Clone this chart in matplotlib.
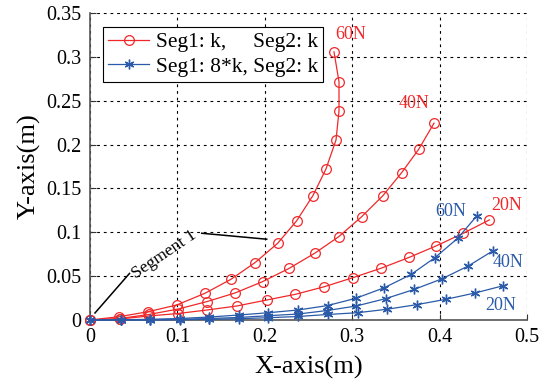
import numpy as np
import matplotlib.pyplot as plt

# red: Seg1 k, Seg2 k
red_60_x = [0, 0.0335, 0.0667, 0.0992, 0.1316, 0.1613, 0.1888, 0.2148, 0.2365, 0.2551, 0.2700, 0.2815, 0.2849, 0.2849, 0.2792]
red_60_y = [0, 0.0038, 0.0095, 0.0171, 0.0305, 0.0464, 0.0654, 0.0875, 0.1132, 0.1419, 0.1722, 0.2053, 0.2384, 0.2715, 0.3057]
red_40_x = [0, 0.0338, 0.0675, 0.1007, 0.1335, 0.1659, 0.1974, 0.2277, 0.2571, 0.2846, 0.3109, 0.3349, 0.3566, 0.3764, 0.3936]
red_40_y = [0, 0.0017, 0.0063, 0.0125, 0.0209, 0.0308, 0.0437, 0.0588, 0.0761, 0.0950, 0.1178, 0.1415, 0.1680, 0.1951, 0.2244]
red_20_x = [0, 0.0338, 0.0675, 0.1007, 0.1339, 0.1682, 0.2022, 0.2351, 0.2683, 0.3009, 0.3330, 0.3650, 0.3959, 0.4271, 0.4569]
red_20_y = [0, 0.0011, 0.0046, 0.0074, 0.0114, 0.0160, 0.0228, 0.0293, 0.0380, 0.0483, 0.0590, 0.0713, 0.0844, 0.0989, 0.1141]

# blue: Seg1 8*k, Seg2 k
blue_60_x = [0, 0.0349, 0.0692, 0.1030, 0.1367, 0.1705, 0.2040, 0.2380, 0.2720, 0.3043, 0.3367, 0.3673, 0.3947, 0.4207, 0.4425]
blue_60_y = [0, 0.0002, 0.0008, 0.0017, 0.0034, 0.0057, 0.0083, 0.0114, 0.0165, 0.0248, 0.0368, 0.0519, 0.0711, 0.0932, 0.1186]
blue_40_x = [0, 0.0349, 0.0692, 0.1030, 0.1367, 0.1705, 0.2040, 0.2380, 0.2712, 0.3049, 0.3387, 0.3707, 0.4024, 0.4328, 0.4614]
blue_40_y = [0, 0.0, 0.0003, 0.0008, 0.0017, 0.0029, 0.0049, 0.0068, 0.0108, 0.0160, 0.0245, 0.0348, 0.0468, 0.0616, 0.0791]
blue_20_x = [0, 0.0349, 0.0692, 0.1030, 0.1367, 0.1705, 0.2040, 0.2380, 0.2720, 0.3061, 0.3402, 0.3738, 0.4073, 0.4405, 0.4729]
blue_20_y = [0, 0.0, 0.0, 0.0003, 0.0008, 0.0015, 0.0026, 0.0040, 0.0063, 0.0083, 0.0123, 0.0175, 0.0236, 0.0308, 0.0391]

force_labels = ['60N', '40N', '20N']
red_label_pos = [(0.2986, 0.325), (0.3707, 0.2464), (0.477, 0.130)]
blue_label_pos = [(0.413, 0.1232), (0.4783, 0.065), (0.4702, 0.016)]

x_ticks = [0, 0.1, 0.2, 0.3, 0.4, 0.5]
x_ticklabels = ['0', '0.1', '0.2', '0.3', '0.4', '0.5']
y_ticks = [0, 0.05, 0.1, 0.15, 0.2, 0.25, 0.3, 0.35]
y_ticklabels = ['0', '0.05', '0.1', '0.15', '0.2', '0.25', '0.3', '0.35']

RED = '#f0282a'
BLUE = '#2a5aa8'

plt.rcParams['font.family'] = ['Liberation Serif', 'DejaVu Serif']

fig = plt.figure(figsize=(5.5, 3.87), dpi=100)
ax = fig.add_axes([90/550, 1-320/387, 437/550, 307/387])

red_sets = [(red_60_x, red_60_y), (red_40_x, red_40_y), (red_20_x, red_20_y)]
blue_sets = [(blue_60_x, blue_60_y), (blue_40_x, blue_40_y), (blue_20_x, blue_20_y)]

for i, (xs, ys) in enumerate(red_sets):
    ax.plot(xs, ys, color=RED, lw=0.9, marker='o', ms=7, mfc='none', mew=0.9,
            clip_on=False, zorder=3, label='Seg1: k,     Seg2: k' if i == 0 else None)
for i, (xs, ys) in enumerate(blue_sets):
    ax.plot(xs, ys, color=BLUE, lw=0.9, marker=(6, 2, 0), ms=7, mew=1.0,
            clip_on=False, zorder=4, label='Seg1: 8*k, Seg2: k' if i == 0 else None)

for lab, (tx, ty) in zip(force_labels, red_label_pos):
    ax.text(tx, ty, lab, color=RED, fontsize=13, ha='center', va='center')
for lab, (tx, ty) in zip(force_labels, blue_label_pos):
    ax.text(tx, ty, lab, color=BLUE, fontsize=13, ha='center', va='center')

# Segment 1 annotation
ax.plot([0.0057, 0.0452], [0.008, 0.0531], color='k', lw=1.1, zorder=5)
ax.plot([0.1278, 0.2022], [0.0989, 0.0921], color='k', lw=1.1, zorder=5)
ax.text(0.0845, 0.0745, 'Segment 1', fontsize=12.5, rotation=34,
        ha='center', va='center', rotation_mode='anchor')

ax.set_xlim(0, 0.5)
ax.set_ylim(0, 0.35)
ax.set_xticks(x_ticks)
ax.set_xticklabels(x_ticklabels)
ax.set_yticks(y_ticks)
ax.set_yticklabels(y_ticklabels)
ax.tick_params(direction='in', length=4, width=0.8, labelsize=14.5, pad=6, color='#333333')

ax.grid(True, color='k', linestyle=(0, (2.5, 3.5)), linewidth=0.8)
ax.set_axisbelow(True)
for s in ['top', 'right']:
    ax.spines[s].set_visible(False)
for s in ['left', 'bottom']:
    ax.spines[s].set_color('#555555')
    ax.spines[s].set_linewidth(1.2)

ax.set_xlabel('X-axis(m)', fontsize=19, labelpad=6)
ax.set_ylabel('Y-axis(m)', fontsize=19, labelpad=4)

leg = ax.legend(loc='upper left', bbox_to_anchor=(13/437, 1-14/307), fontsize=15.5,
                handlelength=1.9, handletextpad=0.3, borderpad=0.25, labelspacing=0.2,
                borderaxespad=0, fancybox=False, framealpha=1, edgecolor='k')
leg.get_frame().set_linewidth(0.8)

plt.savefig('out.png', dpi=100)
